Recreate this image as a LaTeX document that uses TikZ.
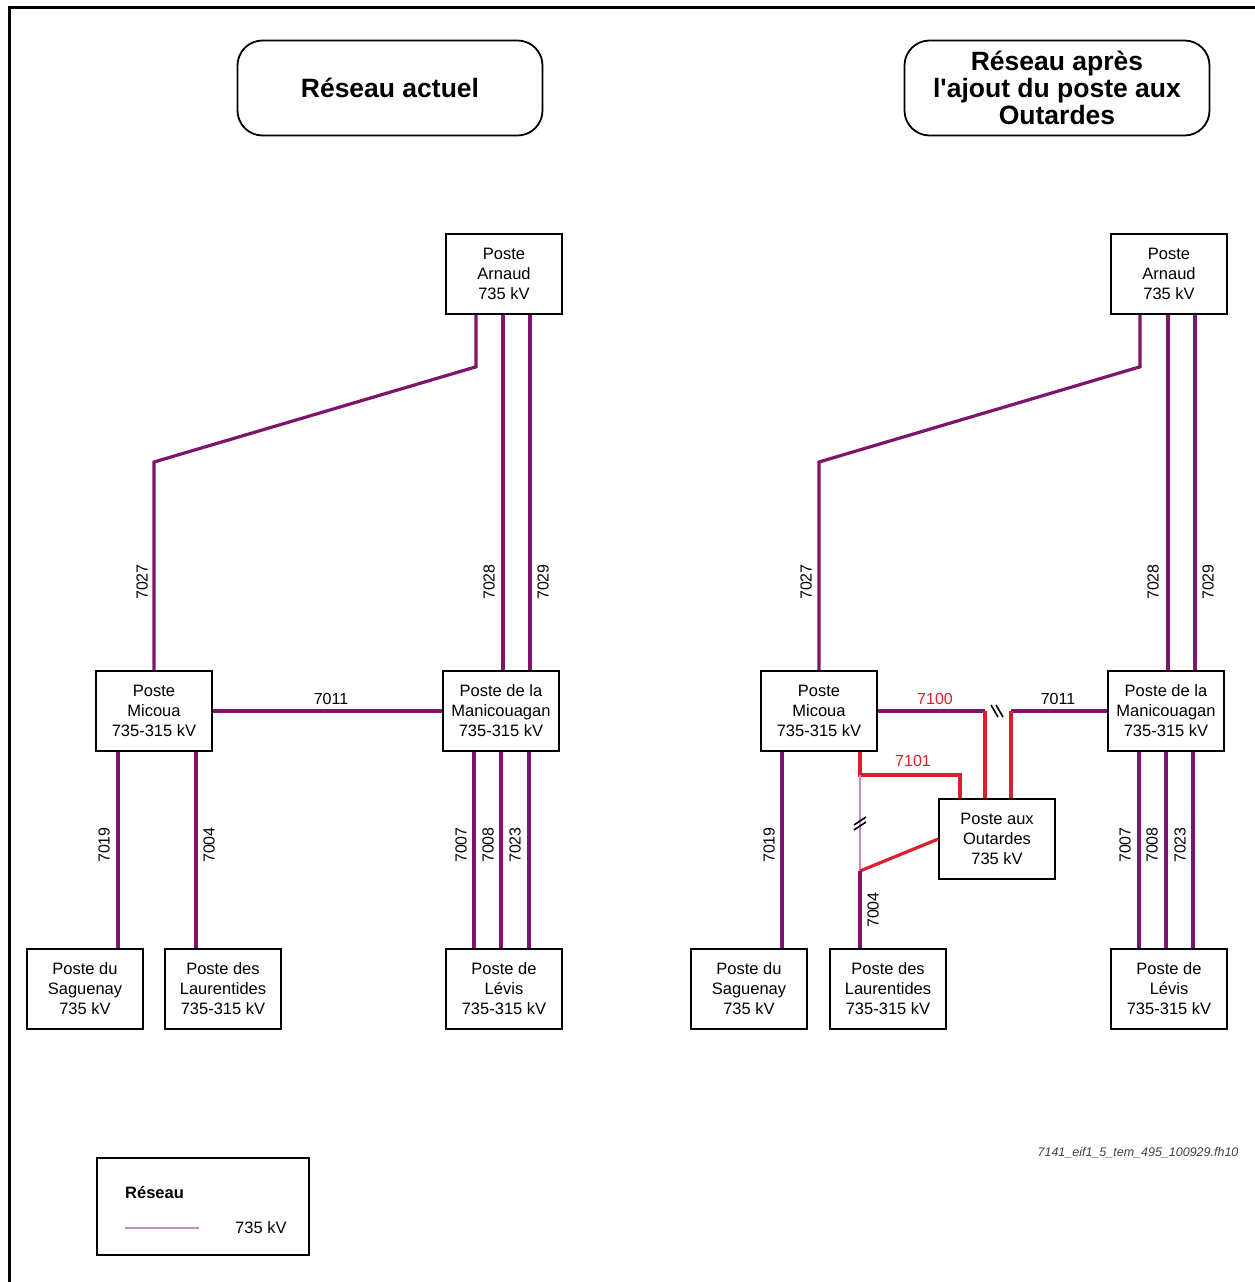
\documentclass[tikz,border=0pt]{standalone}
\usepackage{fontspec}
\setmainfont{Liberation Sans}
\definecolor{netpurple}{RGB}{128,20,108}
\definecolor{netred}{RGB}{222,30,45}
\definecolor{netthin}{RGB}{196,140,192}
\begin{document}
\begin{tikzpicture}[x=1pt,y=-1pt,
  poste/.style={draw,line width=1.6pt,minimum width=116pt,minimum height=80pt,inner sep=0pt,align=center,font=\fontsize{16.5}{20}\selectfont},
  titre/.style={draw,line width=1.8pt,rounded corners=25pt,minimum width=305pt,minimum height=95pt,inner sep=0pt,align=center,font=\fontsize{26.5}{27}\selectfont\bfseries},
  ligne/.style={draw=netpurple,line width=3.2pt},
  lignerouge/.style={draw=netred,line width=3.2pt},
  lignemince/.style={draw=netthin,line width=1.3pt},
  num/.style={font=\fontsize{16}{18}\selectfont,inner sep=1pt},
  numv/.style={num,rotate=90},
  coupure/.style={draw=black,line width=1.6pt}]

\useasboundingbox (0,0) rectangle (1255,1282);
\draw[line width=3pt] (9,1282) -- (9,7) -- (1255,7);

\node (titreA) at (390,88) [titre] {Réseau actuel};
\node (titreB) at (1057,88) [titre] {Réseau après\\l\textquotesingle ajout du poste aux\\Outardes};

\node (arnaudA) at (504,274) [poste] {Poste\\Arnaud\\735 kV};
\node (micouaA) at (154,711) [poste] {Poste\\Micoua\\735-315 kV};
\node (maniA) at (501,711) [poste] {Poste de la\\Manicouagan\\735-315 kV};
\node (saguenayA) at (85,989) [poste] {Poste du\\Saguenay\\735 kV};
\node (laurentA) at (223,989) [poste] {Poste des\\Laurentides\\735-315 kV};
\node (levisA) at (504,989) [poste] {Poste de\\Lévis\\735-315 kV};

\node (arnaudB) at (1169,274) [poste] {Poste\\Arnaud\\735 kV};
\node (micouaB) at (819,711) [poste] {Poste\\Micoua\\735-315 kV};
\node (maniB) at (1166,711) [poste] {Poste de la\\Manicouagan\\735-315 kV};
\node (outardesB) at (997,839) [poste] {Poste aux\\Outardes\\735 kV};
\node (saguenayB) at (749,989) [poste] {Poste du\\Saguenay\\735 kV};
\node (laurentB) at (888,989) [poste] {Poste des\\Laurentides\\735-315 kV};
\node (levisB) at (1169,989) [poste] {Poste de\\Lévis\\735-315 kV};

\draw[ligne] ([xshift=-28pt]arnaudA.south) -- ++(0,52) -- (micouaA.north |- 0,462) -- (micouaA.north);
\draw[ligne] ([xshift=-1pt]arnaudA.south) -- ([xshift=-1pt]arnaudA.south |- maniA.north);
\draw[ligne] ([xshift=26pt]arnaudA.south) -- ([xshift=26pt]arnaudA.south |- maniA.north);
\draw[ligne] (micouaA.east) -- (maniA.west);
\draw[ligne] ([xshift=-36pt]micouaA.south) -- ([xshift=-36pt]micouaA.south |- saguenayA.north);
\draw[ligne] ([xshift=42pt]micouaA.south) -- ([xshift=42pt]micouaA.south |- laurentA.north);
\draw[ligne] ([xshift=-27pt]maniA.south) -- ([xshift=-27pt]maniA.south |- levisA.north);
\draw[ligne] (maniA.south) -- (maniA.south |- levisA.north);
\draw[ligne] ([xshift=28pt]maniA.south) -- ([xshift=28pt]maniA.south |- levisA.north);

\node (n7027A) at (142,582) [numv] {7027};
\node (n7028A) at (489,582) [numv] {7028};
\node (n7029A) at (543,582) [numv] {7029};
\node (n7011A) at (331,699) [num] {7011};
\node (n7019A) at (104,845) [numv] {7019};
\node (n7004A) at (209,845) [numv] {7004};
\node (n7007A) at (461,845) [numv] {7007};
\node (n7008A) at (488,845) [numv] {7008};
\node (n7023A) at (515,845) [numv] {7023};

\coordinate (p7100) at (985,711);
\coordinate (p7011) at (1011,711);
\coordinate (c7101) at (860,775);
\coordinate (j7004) at (860,871);

\draw[ligne] ([xshift=-29pt]arnaudB.south) -- ++(0,52) -- (micouaB.north |- 0,462) -- (micouaB.north);
\draw[ligne] ([xshift=-1pt]arnaudB.south) -- ([xshift=-1pt]arnaudB.south |- maniB.north);
\draw[ligne] ([xshift=26pt]arnaudB.south) -- ([xshift=26pt]arnaudB.south |- maniB.north);
\draw[ligne] (micouaB.east) -- (p7100);
\draw[ligne] (p7011) -- (maniB.west);
\draw[lignerouge] (p7100) -- (p7100 |- outardesB.north);
\draw[lignerouge] (p7011) -- (p7011 |- outardesB.north);
\draw[lignerouge] ([xshift=41pt]micouaB.south) -- (c7101) -| ([xshift=-37pt]outardesB.north);
\draw[lignemince] (c7101) -- (j7004);
\draw[lignerouge] (j7004) -- (outardesB.west);
\draw[ligne] (j7004) -- (j7004 |- laurentB.north);
\draw[ligne] ([xshift=-37pt]micouaB.south) -- ([xshift=-37pt]micouaB.south |- saguenayB.north);
\draw[ligne] ([xshift=-27pt]maniB.south) -- ([xshift=-27pt]maniB.south |- levisB.north);
\draw[ligne] (maniB.south) -- (maniB.south |- levisB.north);
\draw[ligne] ([xshift=27pt]maniB.south) -- ([xshift=27pt]maniB.south |- levisB.north);

\draw[coupure] (991,705) -- (998,717);
\draw[coupure] (996,705) -- (1003,717);
\draw[coupure] (854,825) -- (866,817);
\draw[coupure] (854,830) -- (866,822);

\node (n7027B) at (806,582) [numv] {7027};
\node (n7028B) at (1153,582) [numv] {7028};
\node (n7029B) at (1208,582) [numv] {7029};
\node (n7100B) at (935,699) [num,text=netred] {7100};
\node (n7011B) at (1058,699) [num] {7011};
\node (n7101B) at (913,761) [num,text=netred] {7101};
\node (n7019B) at (769,845) [numv] {7019};
\node (n7004B) at (873,910) [numv] {7004};
\node (n7007B) at (1125,845) [numv] {7007};
\node (n7008B) at (1152,845) [numv] {7008};
\node (n7023B) at (1180,845) [numv] {7023};

\node (fichier) at (1242,1153) [anchor=east,text=black!75,font=\fontsize{12.5}{14}\selectfont\itshape] {7141\_eif1\_5\_tem\_495\_100929.fh10};

\node (legende) at (203,1206.5) [draw,line width=1.6pt,minimum width=212pt,minimum height=97pt] {};
\node (legtitre) at (125,1193) [anchor=west,inner sep=0pt,font=\fontsize{16.5}{20}\selectfont\bfseries] {Réseau};
\coordinate (legdebut) at (125,1228);
\coordinate (legfin) at (199,1228);
\draw[lignemince] (legdebut) -- (legfin);
\node (legtension) at (235,1228) [anchor=west,inner sep=0pt,font=\fontsize{16.5}{20}\selectfont] {735 kV};
\end{tikzpicture}
\end{document}
